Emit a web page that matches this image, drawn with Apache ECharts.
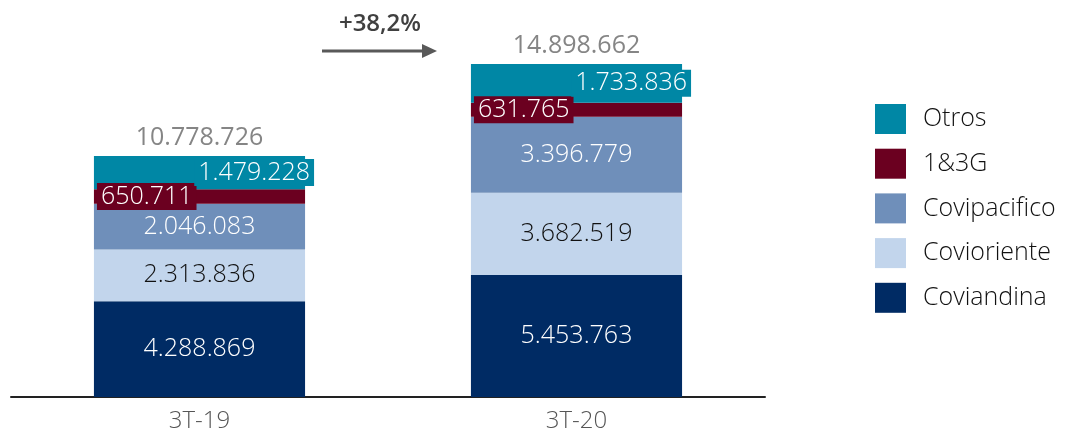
<!DOCTYPE html>
<html><head><meta charset="utf-8">
<script src="https://cdn.jsdelivr.net/npm/echarts@6/dist/echarts.min.js"></script>
<style>html,body{margin:0;padding:0;background:#fff}#c{width:1066px;height:435px}</style>
</head><body><div id="c"></div>
<script>
const categories = ['3T-19', '3T-20'];
const coviandina = [4288869, 5453763];
const covioriente = [2313836, 3682519];
const covipacifico = [2046083, 3396779];
const g13 = [650711, 631765];
const otros = [1479228, 1733836];
const totals = [10778726, 14898662];
const growthLabel = '+38,2%';

const FONT = '"Open Sans", sans-serif';
function fmt(v){ return String(Math.round(v)).replace(/\B(?=(\d{3})+(?!\d))/g, '.'); }

const chart = echarts.init(document.getElementById('c'));
const baseLabel = {show:true, fontFamily:FONT, fontSize:25, fontWeight:300, color:'#fff', formatter:p=>fmt(p.value)};
function seg(name, data, color, label){
  return {name, type:'bar', stack:'t', data, barWidth:'56%', itemStyle:{color}, label:Object.assign({}, baseLabel, label||{}), emphasis:{disabled:true}};
}
chart.setOption({
  animation:false,
  grid:{left:11, right:301, top:17, bottom:38},
  xAxis:{type:'category', data:categories, axisTick:{show:false},
    axisLine:{lineStyle:{color:'#222', width:2}},
    axisLabel:{fontFamily:FONT, fontSize:24, fontWeight:300, color:'#555', margin:12}},
  yAxis:{type:'value', min:0, max:17000000, show:false, splitLine:{show:false}},
  legend:{orient:'vertical', left:875, top:104, padding:0, itemWidth:31, itemHeight:30, itemGap:14.7,
    icon:'rect', data:['Otros','1&3G','Covipacifico','Covioriente','Coviandina'],
    textStyle:{fontFamily:FONT, fontSize:25, fontWeight:300, color:'#111', padding:[0,0,0,12]}},
  series:[
    seg('Coviandina', coviandina, '#002B64'),
    seg('Covioriente', covioriente, '#C2D5EC', {color:'#111'}),
    seg('Covipacifico', covipacifico, '#6F8FBA'),
    seg('1&3G', g13, '#6B0020', {position:'insideLeft', distance:3, backgroundColor:'#6B0020', padding:[2,4,0,4]}),
    seg('Otros', otros, '#0087A5', {position:'insideRight', distance:0, offset:[9,0], backgroundColor:'#0087A5', padding:[2,4,0,4]}),
    {name:'Total', type:'scatter', data:totals, symbolSize:1, itemStyle:{color:'rgba(0,0,0,0)'},
     label:{show:true, position:'top', distance:5, fontFamily:FONT, fontSize:25, fontWeight:400, color:'#666', formatter:p=>fmt(p.value)},
     emphasis:{disabled:true}}
  ],
  graphic:[
    {type:'text', x:380, y:24, style:{text:growthLabel, font:'600 24px "Open Sans", sans-serif', fill:'#404040', textAlign:'center', textVerticalAlign:'middle'}},
    {type:'line', shape:{x1:322, y1:51, x2:424, y2:51}, style:{stroke:'#595959', lineWidth:3}},
    {type:'polygon', shape:{points:[[422,44],[437,51],[422,58]]}, style:{fill:'#595959'}}
  ]
});
</script></body></html>
